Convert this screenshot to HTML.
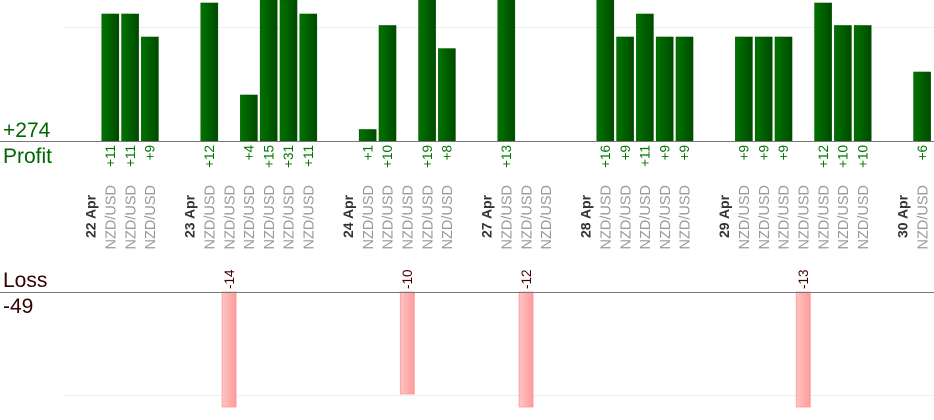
<!DOCTYPE html>
<html><head><meta charset="utf-8"><style>
html,body{margin:0;padding:0;background:#fff;}
svg{display:block;font-family:"Liberation Sans",Arial,sans-serif;}
.pv{fill:#070;font-size:13.5px;text-anchor:end}
.nz{fill:#999;font-size:14.5px;text-anchor:end}
.dt{fill:#333;font-size:14px;font-weight:bold;text-anchor:start}
.lv{fill:#400;font-size:13.5px;text-anchor:start}
</style></head><body>
<svg width="934" height="420" viewBox="0 0 934 420" xmlns="http://www.w3.org/2000/svg">
<defs>
<linearGradient id="g" x1="0" x2="1" y1="0" y2="0"><stop offset="0" stop-color="#007400"/><stop offset="1" stop-color="#004a00"/></linearGradient>
<linearGradient id="r" x1="0" x2="1" y1="0" y2="0"><stop offset="0" stop-color="#ffc4c4"/><stop offset="1" stop-color="#ff9a9a"/></linearGradient>
</defs>
<line x1="63" y1="27.5" x2="934" y2="27.5" stroke="#eee"/>
<line x1="63" y1="395.5" x2="934" y2="395.5" stroke="#eee"/>
<g fill="url(#g)" stroke="#005500" stroke-width="0.6">
<rect x="101.8" y="14" width="17" height="127"/>
<rect x="121.6" y="14" width="17" height="127"/>
<rect x="141.4" y="37" width="17" height="104"/>
<rect x="200.8" y="3" width="17" height="138"/>
<rect x="240.4" y="95" width="17" height="46"/>
<rect x="260.2" y="0" width="17" height="141"/>
<rect x="280" y="0" width="17" height="141"/>
<rect x="299.8" y="14" width="17" height="127"/>
<rect x="359.2" y="129.5" width="17" height="11.5"/>
<rect x="379" y="25.5" width="17" height="115.5"/>
<rect x="418.6" y="0" width="17" height="141"/>
<rect x="438.4" y="48.6" width="17" height="92.4"/>
<rect x="497.8" y="0" width="17" height="141"/>
<rect x="596.8" y="0" width="17" height="141"/>
<rect x="616.6" y="37" width="17" height="104"/>
<rect x="636.4" y="14" width="17" height="127"/>
<rect x="656.2" y="37" width="17" height="104"/>
<rect x="676" y="37" width="17" height="104"/>
<rect x="735.4" y="37" width="17" height="104"/>
<rect x="755.2" y="37" width="17" height="104"/>
<rect x="775" y="37" width="17" height="104"/>
<rect x="814.6" y="3" width="17" height="138"/>
<rect x="834.4" y="25.5" width="17" height="115.5"/>
<rect x="854.2" y="25.5" width="17" height="115.5"/>
<rect x="913.6" y="72" width="17" height="69"/>
</g>
<g fill="url(#r)" stroke="#f99" stroke-width="0.8">
<rect x="222.1" y="292" width="14" height="115"/>
<rect x="400.3" y="292" width="14" height="102"/>
<rect x="519.1" y="292" width="14" height="115"/>
<rect x="796.3" y="292" width="14" height="115"/>
</g>
<line x1="0" y1="141.5" x2="934" y2="141.5" stroke="#777"/>
<line x1="0" y1="292.5" x2="934" y2="292.5" stroke="#777"/>
<text x="3" y="137" fill="#060" font-size="21">+274</text>
<text x="3" y="163" fill="#060" font-size="21">Profit</text>
<text x="3" y="287" fill="#300" font-size="21">Loss</text>
<text x="3" y="313" fill="#300" font-size="21">-49</text>
<g class="pv">
<text transform="translate(115,145) rotate(-90)">+11</text>
<text transform="translate(134.8,145) rotate(-90)">+11</text>
<text transform="translate(154.6,145) rotate(-90)">+9</text>
<text transform="translate(214,145) rotate(-90)">+12</text>
<text transform="translate(253.6,145) rotate(-90)">+4</text>
<text transform="translate(273.4,145) rotate(-90)">+15</text>
<text transform="translate(293.2,145) rotate(-90)">+31</text>
<text transform="translate(313,145) rotate(-90)">+11</text>
<text transform="translate(372.4,145) rotate(-90)">+1</text>
<text transform="translate(392.2,145) rotate(-90)">+10</text>
<text transform="translate(431.8,145) rotate(-90)">+19</text>
<text transform="translate(451.6,145) rotate(-90)">+8</text>
<text transform="translate(511,145) rotate(-90)">+13</text>
<text transform="translate(610,145) rotate(-90)">+16</text>
<text transform="translate(629.8,145) rotate(-90)">+9</text>
<text transform="translate(649.6,145) rotate(-90)">+11</text>
<text transform="translate(669.4,145) rotate(-90)">+9</text>
<text transform="translate(689.2,145) rotate(-90)">+9</text>
<text transform="translate(748.6,145) rotate(-90)">+9</text>
<text transform="translate(768.4,145) rotate(-90)">+9</text>
<text transform="translate(788.2,145) rotate(-90)">+9</text>
<text transform="translate(827.8,145) rotate(-90)">+12</text>
<text transform="translate(847.6,145) rotate(-90)">+10</text>
<text transform="translate(867.4,145) rotate(-90)">+10</text>
<text transform="translate(926.8,145) rotate(-90)">+6</text>
</g>
<g class="dt">
<text transform="translate(95.5,238) rotate(-90)">22 Apr</text>
<text transform="translate(194.5,238) rotate(-90)">23 Apr</text>
<text transform="translate(353,238) rotate(-90)">24 Apr</text>
<text transform="translate(491.5,238) rotate(-90)">27 Apr</text>
<text transform="translate(590.5,238) rotate(-90)">28 Apr</text>
<text transform="translate(729,238) rotate(-90)">29 Apr</text>
<text transform="translate(907.3,238) rotate(-90)">30 Apr</text>
</g>
<g class="nz">
<text transform="translate(115.5,185) rotate(-90)">NZD/USD</text>
<text transform="translate(135.3,185) rotate(-90)">NZD/USD</text>
<text transform="translate(155.1,185) rotate(-90)">NZD/USD</text>
<text transform="translate(214.5,185) rotate(-90)">NZD/USD</text>
<text transform="translate(234.3,185) rotate(-90)">NZD/USD</text>
<text transform="translate(254.1,185) rotate(-90)">NZD/USD</text>
<text transform="translate(273.9,185) rotate(-90)">NZD/USD</text>
<text transform="translate(293.7,185) rotate(-90)">NZD/USD</text>
<text transform="translate(313.5,185) rotate(-90)">NZD/USD</text>
<text transform="translate(372.9,185) rotate(-90)">NZD/USD</text>
<text transform="translate(392.7,185) rotate(-90)">NZD/USD</text>
<text transform="translate(412.5,185) rotate(-90)">NZD/USD</text>
<text transform="translate(432.3,185) rotate(-90)">NZD/USD</text>
<text transform="translate(452.1,185) rotate(-90)">NZD/USD</text>
<text transform="translate(511.5,185) rotate(-90)">NZD/USD</text>
<text transform="translate(531.3,185) rotate(-90)">NZD/USD</text>
<text transform="translate(551.1,185) rotate(-90)">NZD/USD</text>
<text transform="translate(610.5,185) rotate(-90)">NZD/USD</text>
<text transform="translate(630.3,185) rotate(-90)">NZD/USD</text>
<text transform="translate(650.1,185) rotate(-90)">NZD/USD</text>
<text transform="translate(669.9,185) rotate(-90)">NZD/USD</text>
<text transform="translate(689.7,185) rotate(-90)">NZD/USD</text>
<text transform="translate(749.1,185) rotate(-90)">NZD/USD</text>
<text transform="translate(768.9,185) rotate(-90)">NZD/USD</text>
<text transform="translate(788.7,185) rotate(-90)">NZD/USD</text>
<text transform="translate(808.5,185) rotate(-90)">NZD/USD</text>
<text transform="translate(828.3,185) rotate(-90)">NZD/USD</text>
<text transform="translate(848.1,185) rotate(-90)">NZD/USD</text>
<text transform="translate(867.9,185) rotate(-90)">NZD/USD</text>
<text transform="translate(927.3,185) rotate(-90)">NZD/USD</text>
</g>
<g class="lv">
<text transform="translate(233.8,289) rotate(-90)">-14</text>
<text transform="translate(412,289) rotate(-90)">-10</text>
<text transform="translate(530.8,289) rotate(-90)">-12</text>
<text transform="translate(808,289) rotate(-90)">-13</text>
</g>
</svg>
</body></html>
